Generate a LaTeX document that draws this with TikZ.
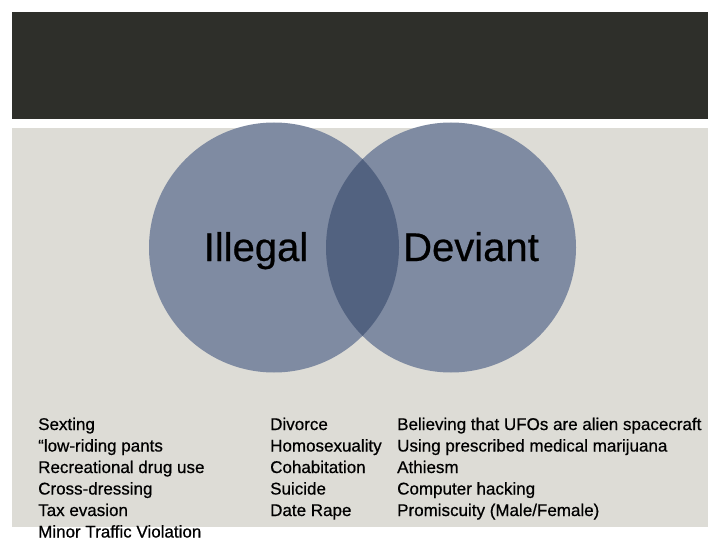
\documentclass[tikz,border=0pt]{standalone}
\usepackage{fontspec}
\setmainfont{Liberation Sans}[FakeBold=0.6]

\begin{document}
\begin{tikzpicture}[
  x=1pt,y=-1pt,
  set/.style={circle,fill=setc,draw=none,minimum size=250pt,inner sep=0pt},
  set label/.style={font=\fontsize{40}{48}\selectfont,anchor=base,inner sep=0pt},
  list/.style={font=\fontsize{17}{21.5}\selectfont,align=left,
    anchor=north west,inner sep=0pt}]

  \definecolor{headc}{RGB}{46,47,42}
  \definecolor{panelc}{RGB}{221,220,214}
  \definecolor{setc}{RGB}{127,139,162}
  \definecolor{lensc}{RGB}{82,98,128}

  \useasboundingbox (0,0) rectangle (720,540);

  % header bar and panel
  \fill[headc] (12,12) rectangle (708,119);
  \fill[panelc] (12,128) rectangle (708,527);

  % the two sets
  \node[set] (illegal) at (274,247.5) {};
  \node[set] (deviant) at (451,247.5) {};

  % overlap
  \begin{scope}
    \clip (illegal.center) circle[radius=125pt];
    \fill[lensc] (deviant.center) circle[radius=125pt];
  \end{scope}

  \node[set label] (illegal label) at (256,261) {Illegal};
  \node[set label] (deviant label) at (471,261) {Deviant};

  % examples under each part
  \node[list] (illegal list) at (38,417.5)
    {Sexting\\“low-riding pants\\Recreational drug use\\Cross-dressing\\
     Tax evasion\\Minor Traffic Violation};

  \node[list] (both list) at (270,417.5)
    {Divorce\\Homosexuality\\Cohabitation\\Suicide\\Date Rape};

  \node[list] (deviant list) at (397,417.5)
    {Believing that UFOs are alien spacecraft\\
     Using prescribed medical marijuana\\Athiesm\\Computer hacking\\
     Promiscuity (Male/Female)};
\end{tikzpicture}
\end{document}
